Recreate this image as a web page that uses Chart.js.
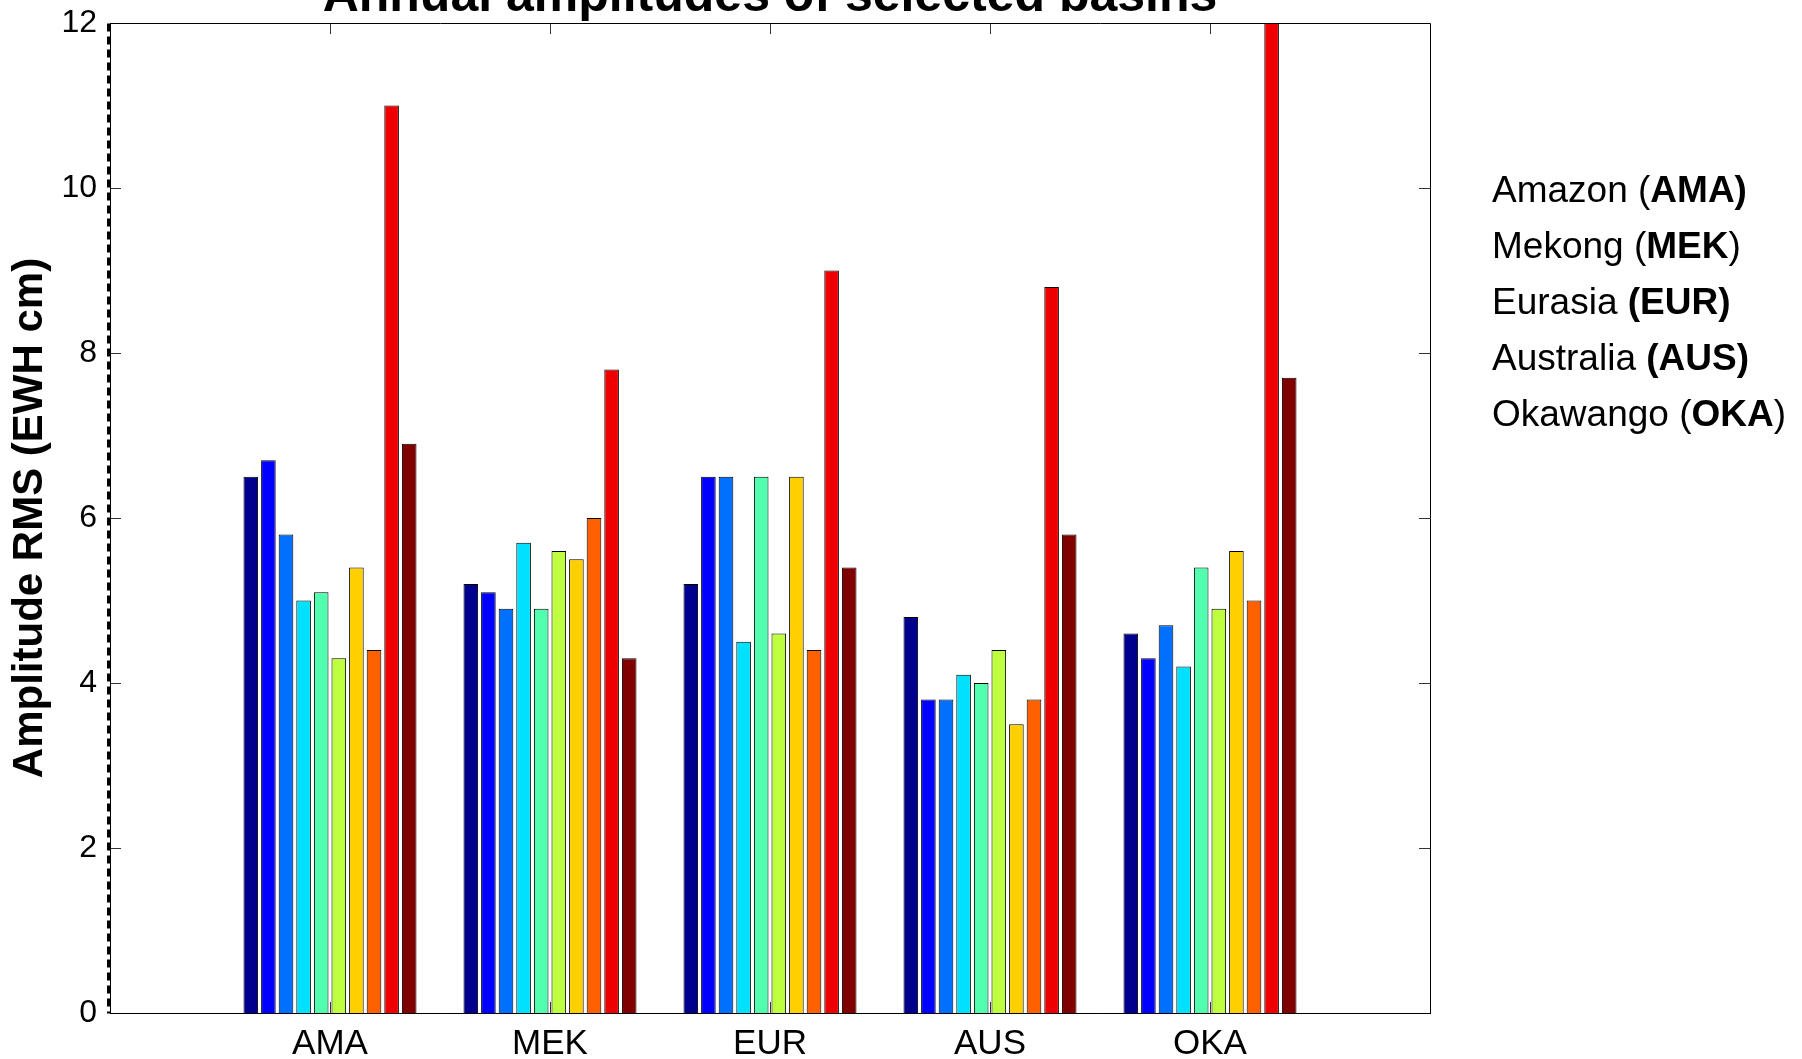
<!DOCTYPE html>
<html>
<head>
<meta charset="utf-8">
<script src="https://cdn.jsdelivr.net/npm/chart.js@4.4.1/dist/chart.umd.min.js"></script>
<style>
html, body { margin: 0; padding: 0; background: #fff; }
#wrap { position: relative; width: 1802px; height: 1059px; overflow: hidden; background: #fff; }
#c { position: absolute; left: 0; top: 0; }
#notes { position: absolute; left: 1492px; top: 162px; font-family: 'Liberation Sans', Arial, Helvetica, sans-serif; font-size: 37px; line-height: 56px; color: #000; white-space: nowrap; }
#notes b { font-weight: bold; }
</style>
</head>
<body>
<div id="wrap">
  <canvas id="c" width="1802" height="1059"></canvas>
  <div id="notes">
    <div>Amazon (<b>AMA)</b></div>
    <div>Mekong (<b>MEK</b>)</div>
    <div>Eurasia <b>(EUR)</b></div>
    <div>Australia <b>(AUS)</b></div>
    <div>Okawango (<b>OKA</b>)</div>
  </div>
</div>
<script>
// ---- data ----
const titleText = 'Annual amplitudes of selected basins';
const yAxisTitle = 'Amplitude RMS (EWH cm)';
const categories = ['AMA', 'MEK', 'EUR', 'AUS', 'OKA'];
const yTicks = [0, 2, 4, 6, 8, 10, 12];

const series1  = [6.5, 5.2, 5.2, 4.8, 4.6];
const series2  = [6.7, 5.1, 6.5, 3.8, 4.3];
const series3  = [5.8, 4.9, 6.5, 3.8, 4.7];
const series4  = [5.0, 5.7, 4.5, 4.1, 4.2];
const series5  = [5.1, 4.9, 6.5, 4.0, 5.4];
const series6  = [4.3, 5.6, 4.6, 4.4, 4.9];
const series7  = [5.4, 5.5, 6.5, 3.5, 5.6];
const series8  = [4.4, 6.0, 4.4, 3.8, 5.0];
const series9  = [11.0, 7.8, 9.0, 8.8, 13.5];
const series10 = [6.9, 4.3, 5.4, 5.8, 7.7];

const seriesNames = ['Series 1', 'Series 2', 'Series 3', 'Series 4', 'Series 5',
                     'Series 6', 'Series 7', 'Series 8', 'Series 9', 'Series 10'];
const seriesValues = [series1, series2, series3, series4, series5,
                      series6, series7, series8, series9, series10];
const seriesColors = ['#00008F', '#0000FF', '#0070FF', '#00E0FF', '#52FFAE',
                      '#BEFF40', '#FFCF00', '#FF6000', '#EE0000', '#800000'];

// ---- chart ----
const FONT = "'Liberation Sans', Arial, Helvetica, sans-serif";
const labels = [''].concat(categories, ['']);

const datasets = seriesValues.map((vals, i) => ({
  label: seriesNames[i],
  data: [null].concat(vals, [null]),
  backgroundColor: seriesColors[i],
  borderColor: '#000',
  borderWidth: 1,
  borderSkipped: 'start',
  categoryPercentage: 0.8,
  barPercentage: 0.83,
  clip: 0
}));

function seg(ctx, x1, y1, x2, y2) {
  ctx.beginPath(); ctx.moveTo(x1, y1); ctx.lineTo(x2, y2); ctx.stroke();
}

const matlabFrame = {
  id: 'matlabFrame',
  beforeDatasetsDraw(chart) {
    const { ctx, chartArea: a, scales: { x, y } } = chart;
    ctx.save();
    ctx.strokeStyle = '#333';
    ctx.lineWidth = 1;
    categories.forEach((c, i) => {
      const px = Math.round(x.getPixelForValue(i + 1)) + 0.5;
      seg(ctx, px, a.top, px, a.top + 11);
      seg(ctx, px, a.bottom, px, a.bottom - 11);
    });
    yTicks.slice(1, -1).forEach(v => {
      const py = Math.round(y.getPixelForValue(v)) + 0.5;
      seg(ctx, a.left, py, a.left + 11, py);
      seg(ctx, a.right, py, a.right - 11, py);
    });
    ctx.restore();
  },
  afterDraw(chart) {
    const { ctx, chartArea: a } = chart;
    ctx.save();
    ctx.strokeStyle = '#000';
    ctx.lineWidth = 1;
    const l = Math.round(a.left) + 0.5, r = Math.round(a.right) + 0.5;
    const t = Math.round(a.top) + 0.5, b = Math.round(a.bottom) + 0.5;
    seg(ctx, l, t, r, t);
    seg(ctx, r, t, r, b);
    seg(ctx, l, b, r, b);
    seg(ctx, l, t, l, b);
    // dashed thick left edge
    ctx.lineWidth = 4;
    ctx.setLineDash([8, 5]);
    seg(ctx, l - 1.5, t, l - 1.5, b);
    ctx.setLineDash([]);
    // title (partially cut by the top edge)
    ctx.fillStyle = '#000';
    ctx.font = 'bold 50px ' + FONT;
    ctx.textAlign = 'center';
    ctx.textBaseline = 'alphabetic';
    ctx.fillText(titleText, (a.left + a.right) / 2, 11);
    ctx.restore();
  }
};

new Chart(document.getElementById('c'), {
  type: 'bar',
  data: { labels: labels, datasets: datasets },
  options: {
    responsive: false,
    animation: false,
    devicePixelRatio: 1,
    layout: { padding: { left: 0, top: 23, right: 372, bottom: 0 } },
    plugins: {
      legend: { display: false },
      title: { display: false },
      tooltip: { enabled: false }
    },
    scales: {
      x: {
        type: 'category',
        offset: false,
        grid: { display: false, offset: false },
        border: { display: true, color: '#000', width: 1 },
        ticks: {
          color: '#000',
          font: { family: FONT, size: 35, lineHeight: 1.2 },
          padding: 2,
          maxRotation: 0,
          minRotation: 0,
          autoSkip: false
        },
        afterFit: (s) => { s.height = 46; }
      },
      y: {
        min: 0,
        max: 12,
        grid: { display: false },
        border: { display: true, color: '#000', width: 1 },
        afterBuildTicks: (s) => { s.ticks = yTicks.map(v => ({ value: v })); },
        ticks: {
          color: '#000',
          font: { family: FONT, size: 32, lineHeight: 0.6 },
          padding: 5,
          callback: (v) => String(v)
        },
        title: {
          display: true,
          text: yAxisTitle,
          color: '#000',
          font: { family: FONT, size: 42, weight: 'bold', lineHeight: 1 },
          padding: { top: 9, bottom: 0 }
        },
        afterFit: (s) => { s.width = 110; }
      }
    }
  },
  plugins: [matlabFrame]
});
</script>
</body>
</html>
